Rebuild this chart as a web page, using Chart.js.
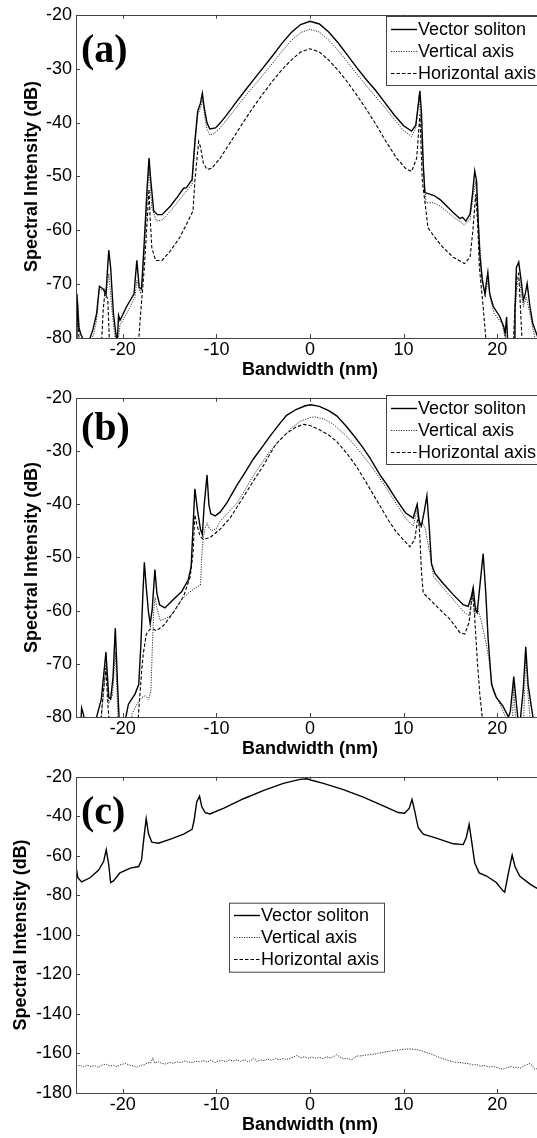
<!doctype html>
<html lang="en">
<head>
<meta charset="utf-8">
<title>Vector soliton spectra</title>
<style>
  * { margin: 0; padding: 0; }
  body { width: 537px; height: 1138px; overflow: hidden; background: #fff; position: relative; }
  .panel { position: absolute; left: 0; width: 546px; }
  .panel canvas { display: block; }
</style>
</head>
<body>
<div class="panel" style="top:0px;height:383px"><canvas id="chartA" width="546" height="383"></canvas></div>
<div class="panel" style="top:383px;height:379px"><canvas id="chartB" width="546" height="379"></canvas></div>
<div class="panel" style="top:762px;height:376px"><canvas id="chartC" width="546" height="376"></canvas></div>

<script src="https://cdn.jsdelivr.net/npm/chart.js"></script>
<script>
// series labels (same in every panel)
const seriesLabels = ['Vector soliton', 'Vertical axis', 'Horizontal axis'];
const xTickValues = [-20, -10, 0, 10, 20];

// panel (a)  [bandwidth nm, intensity dB]
const aSoliton = [[-25,-82],[-24.9,-71.8],[-24.7,-78],[-24.5,-79.2],[-24.2,-80.4],[-23.6,-80.5],[-23.2,-78.5],[-22.8,-75.5],[-22.5,-70.4],[-22.1,-70.9],[-21.8,-71.8],[-21.5,-63.7],[-21.3,-66.9],[-21.0,-75.5],[-20.7,-79.8],[-20.6,-81],[-20.45,-75.8],[-20.3,-76.7],[-19.6,-74.2],[-18.8,-71.8],[-18.5,-65.6],[-18.25,-70.6],[-18.0,-70.9],[-17.7,-61.9],[-17.4,-52.1],[-17.2,-46.6],[-17.0,-50.9],[-16.7,-56.4],[-16.3,-57.1],[-15.8,-57.1],[-14.9,-55.5],[-14.2,-53.9],[-13.5,-52.2],[-13.2,-52.1],[-12.6,-50.6],[-12.3,-43.5],[-12.0,-37.9],[-11.7,-36.4],[-11.5,-34.6],[-11.3,-37.3],[-11.0,-40.1],[-10.7,-41.2],[-10.1,-41.0],[-9.6,-40.1],[-9,-38.8],[-8,-36.5],[-7,-34.2],[-6,-32.0],[-5,-29.8],[-4,-27.6],[-3,-25.3],[-2,-23.3],[-1,-21.8],[0,-21.2],[1,-21.7],[2,-23.2],[3,-25.2],[4,-27.5],[5,-29.8],[6,-32.0],[7,-34.0],[8,-36.3],[9,-38.6],[10,-40.6],[10.85,-41.6],[11.3,-40.5],[11.55,-37.0],[11.74,-34.1],[11.92,-38.6],[12.1,-47.8],[12.27,-53.0],[12.8,-53.3],[13.3,-53.6],[13.9,-54.3],[14.6,-55.5],[15.3,-56.7],[16.0,-57.8],[16.3,-57.6],[16.65,-58.3],[17.1,-57.0],[17.36,-53.3],[17.6,-49.0],[17.8,-50.9],[17.97,-58.3],[18.14,-64.4],[18.4,-69.3],[18.7,-71.8],[18.85,-69.6],[19.0,-67.8],[19.2,-71.8],[19.6,-74.2],[20.3,-76.1],[20.7,-77.9],[20.85,-79.2],[21.0,-76.1],[21.1,-80.1],[21.2,-82],[21.8,-82],[21.9,-74.9],[22.05,-66.9],[22.3,-65.9],[22.6,-69.9],[22.8,-73.0],[23.0,-71.8],[23.2,-69.9],[23.5,-74.2],[23.8,-77.3],[24.2,-79.2],[24.6,-81]];
const aVertical = [[-25,-82],[-24.8,-73.6],[-24.6,-79],[-24.2,-80.5],[-23.4,-80.5],[-23.1,-79.2],[-22.8,-76.7],[-22.5,-70.9],[-22.05,-71.2],[-21.8,-72.5],[-21.5,-68],[-21.2,-74],[-20.9,-79],[-20.7,-81],[-20.5,-80.5],[-20.3,-77.6],[-19.6,-75.5],[-18.7,-72.4],[-18.5,-69.3],[-18.1,-71.8],[-17.9,-69.3],[-17.6,-60.7],[-17.35,-52.7],[-17.2,-48.4],[-16.9,-55.8],[-16.4,-58.3],[-15.8,-58.1],[-14.9,-56.4],[-14.2,-54.9],[-13.5,-53.3],[-12.6,-51.5],[-12.3,-44.7],[-12.0,-38.6],[-11.7,-37.3],[-11.45,-35.8],[-11.2,-39.5],[-11.0,-41.3],[-10.7,-42.3],[-10.2,-42.0],[-9.6,-41.0],[-9,-39.7],[-8,-37.5],[-7,-35.3],[-6,-33.2],[-5,-31.1],[-4,-29.0],[-3,-26.8],[-2,-24.8],[-1,-23.3],[0,-22.7],[1,-23.2],[2,-24.7],[3,-26.6],[4,-28.8],[5,-31.0],[6,-33.1],[7,-35.2],[8,-37.2],[9,-39.4],[10,-41.5],[10.85,-42.6],[11.3,-41],[11.67,-34.9],[11.9,-41.6],[12.2,-50.9],[12.4,-54.9],[13.2,-54.9],[13.9,-55.5],[15.3,-57.5],[16.5,-59.0],[17.1,-58.0],[17.4,-53.9],[17.7,-50.9],[18.0,-58.9],[18.3,-66.9],[18.7,-72.4],[19.0,-69.3],[19.3,-73.0],[19.7,-75.5],[20.5,-77.3],[20.9,-80.4],[21.1,-82],[21.8,-82],[21.9,-75.5],[22.2,-68.7],[22.4,-69.5],[22.8,-74.2],[23.1,-72.4],[23.5,-75.5],[24.0,-79.8],[24.5,-81]];
const aHorizontal = [[-25,-82],[-24.9,-74],[-24.7,-79.5],[-24.5,-82],[-22.3,-82],[-22.1,-75],[-21.9,-71.2],[-21.6,-73],[-21.4,-82],[-18.4,-82],[-18.3,-80.4],[-18.1,-75.5],[-17.7,-66.9],[-17.4,-58.3],[-17.2,-52.4],[-17.1,-57.0],[-16.9,-63.2],[-16.5,-65.6],[-15.8,-65.6],[-14.9,-63.8],[-13.9,-61.3],[-13.2,-58.9],[-12.5,-56.4],[-12.3,-50.9],[-11.9,-43.5],[-11.7,-44.5],[-11.4,-47.5],[-11.0,-48.7],[-10.5,-48.5],[-9.6,-46.6],[-9,-45],[-8,-42.3],[-7,-39.6],[-6,-37],[-5,-34.6],[-4,-32.3],[-3,-30.2],[-2,-28.4],[-1,-26.9],[0,-26.3],[1,-26.9],[2,-28.4],[3,-30.3],[4,-32.5],[5,-34.9],[6,-37.5],[7,-40.2],[7.47,-41.6],[8,-43.2],[9.25,-46.6],[10.2,-48.5],[10.85,-49.1],[11.4,-46.6],[11.74,-38.5],[12.0,-50.9],[12.27,-54.6],[12.6,-59.5],[13.2,-61.0],[14.2,-63.2],[15.3,-65.0],[16.5,-66.2],[17.1,-65.0],[17.4,-60.1],[17.7,-53.3],[17.9,-58.3],[18.1,-66.9],[18.5,-74.2],[18.8,-80.4],[18.9,-82],[21.7,-82],[21.85,-76],[22.1,-68.5],[22.3,-68],[22.5,-75],[22.7,-82],[25,-82]];

// panel (b)
const bSoliton = [[-25,-82],[-24.5,-82],[-24.4,-78.3],[-24.2,-79.5],[-24.0,-82],[-22.9,-82],[-22.8,-80],[-22.3,-76.7],[-21.8,-67.8],[-21.5,-76.3],[-21.3,-76.6],[-21.05,-72.7],[-20.8,-63.3],[-20.56,-73.9],[-20.4,-80],[-20.3,-82],[-19.9,-82],[-19.4,-77.6],[-18.7,-75.7],[-18.3,-73.9],[-18.07,-66.5],[-17.85,-56.7],[-17.7,-50.9],[-17.5,-55.5],[-17.25,-60.4],[-17.07,-62.5],[-16.86,-59.8],[-16.57,-52.3],[-16.36,-56.7],[-16.07,-58.9],[-15.5,-59.5],[-14.6,-57.9],[-13.7,-56.4],[-13.0,-54.2],[-12.7,-51.8],[-12.5,-44.4],[-12.3,-37.1],[-12.0,-41.4],[-11.7,-44.7],[-11.5,-45.7],[-11.3,-40.1],[-11.0,-34.5],[-10.8,-40.1],[-10.6,-41.8],[-10.13,-42.2],[-9.6,-41.5],[-8.9,-39.8],[-7.8,-36.4],[-7,-34.2],[-6.05,-31.5],[-5,-29],[-4.27,-27.2],[-3.3,-25],[-2.5,-23.3],[-1.5,-22.2],[-0.5,-21.5],[0.1,-21.3],[1,-21.6],[2,-22.4],[2.85,-23.4],[3.8,-25.2],[4.63,-27],[5.5,-29],[6.4,-31.3],[7.47,-34.5],[8.2,-36.3],[9.25,-39.2],[10.2,-41.6],[11.03,-42.6],[11.45,-40.0],[11.67,-43.2],[11.9,-44.1],[12.2,-41.4],[12.49,-38.4],[12.74,-44.4],[12.98,-51.2],[13.34,-53.0],[14.23,-54.9],[15.3,-57.0],[16.36,-58.9],[16.9,-59.2],[17.25,-57.3],[17.43,-55.7],[17.68,-59.8],[17.86,-60.4],[18.14,-55.5],[18.5,-49.3],[18.78,-56.7],[19.03,-65.3],[19.4,-73.9],[19.9,-76.3],[20.6,-77.9],[21.2,-80],[21.4,-79],[21.77,-72.4],[22.06,-77.6],[22.3,-82],[22.5,-80],[22.77,-75.1],[23.05,-66.8],[23.3,-73.9],[23.66,-78.2],[24.0,-82],[25,-82]];
const bVertical = [[-25,-82],[-22.4,-82],[-22.2,-78.2],[-21.8,-70.2],[-21.5,-77.5],[-21.1,-76],[-20.8,-67.8],[-20.6,-76],[-20.5,-82],[-19.2,-82],[-19.0,-79.4],[-18.5,-77.6],[-17.96,-76.3],[-17.6,-76.0],[-17.25,-76.7],[-17.0,-75.1],[-16.86,-67.8],[-16.7,-60],[-16.55,-57.5],[-16.4,-59.2],[-16.0,-61.9],[-14.9,-61.0],[-13.7,-57.9],[-13.0,-56.7],[-12.3,-55.8],[-11.7,-55.2],[-11.55,-49.3],[-11.4,-46.3],[-11.2,-44.5],[-11.0,-43.5],[-10.8,-44.5],[-10.5,-45.0],[-10.0,-44.6],[-9.6,-43.2],[-8.7,-41.5],[-7.8,-39.8],[-7,-37.5],[-6.05,-34.6],[-5,-31.9],[-4.27,-30.0],[-3.5,-28.5],[-2.8,-27.2],[-2,-25.7],[-1,-24.4],[0,-23.7],[0.5,-23.6],[1.5,-24.0],[2.5,-25.0],[3.9,-27.2],[5,-29.4],[6.4,-32.5],[7.47,-35.2],[8.2,-37.1],[9.25,-40.0],[10.2,-42.6],[11.03,-44.1],[11.45,-41.0],[11.74,-44.4],[12.0,-43.5],[12.3,-44.5],[12.8,-49.3],[13.2,-53.6],[14.23,-55.8],[15.3,-57.9],[16.36,-60.1],[17.0,-61.0],[17.36,-56.7],[17.6,-61.0],[17.86,-59.2],[18.3,-62],[18.8,-66],[19.1,-69],[19.56,-75.1],[20.3,-77.6],[20.9,-80],[21.1,-82],[21.6,-82],[21.77,-74],[22.0,-82],[22.8,-82],[23.05,-68],[23.3,-76],[23.6,-82],[25,-82]];
const bHorizontal = [[-25,-82],[-22.4,-82],[-22.1,-75.7],[-21.8,-70.8],[-21.6,-77.6],[-21.4,-82],[-18.4,-82],[-18.3,-78.8],[-17.96,-70.8],[-17.8,-68],[-17.5,-64.5],[-17.1,-63.5],[-16.7,-63.5],[-16.4,-63.8],[-15.65,-62.8],[-14.6,-60.4],[-13.5,-57.3],[-12.8,-53.6],[-12.5,-49.3],[-12.3,-42],[-12.1,-43.8],[-11.75,-46.0],[-11.4,-46.6],[-10.7,-46.3],[-9.6,-44.7],[-8.5,-42.5],[-7.1,-38.6],[-6,-35.5],[-5,-32.8],[-4.3,-30.6],[-3.55,-28.5],[-2.5,-26.7],[-1.5,-25.5],[-0.7,-25.0],[0,-25.2],[1,-26.0],[2,-27.0],[2.85,-28.2],[4,-30.6],[5,-33.0],[6,-35.9],[6.8,-38.3],[7.47,-40.3],[8.3,-42.8],[9.25,-45.3],[10.67,-48.0],[11.2,-46.6],[11.56,-42],[11.74,-46.3],[11.9,-52.4],[12.1,-56.7],[12.8,-57.9],[13.87,-59.8],[14.94,-61.6],[16.0,-64.1],[16.54,-64.4],[17.0,-62.2],[17.36,-56.7],[17.54,-59.8],[17.86,-69.0],[18.14,-75.7],[18.4,-80],[18.5,-82],[25,-82]];

// panel (c)
const cSoliton = [[-25,-65.4],[-24.8,-71.1],[-24.4,-73.2],[-23.5,-71.1],[-22.6,-67.3],[-22.05,-62.9],[-21.77,-56.9],[-21.5,-64.5],[-21.3,-73.5],[-21.0,-72.7],[-20.3,-68.6],[-19.2,-66.2],[-18.3,-65.4],[-18.0,-62.1],[-17.7,-49.0],[-17.5,-41.2],[-17.25,-49.0],[-16.9,-53.1],[-16.2,-53.6],[-14.9,-51.5],[-13.5,-49.0],[-12.6,-46.6],[-12.4,-42.5],[-12.1,-32.7],[-11.8,-29.8],[-11.56,-35.2],[-11.2,-38.1],[-10.7,-38.8],[-9.25,-36.0],[-7.1,-31.1],[-5.0,-27.0],[-2.85,-23.3],[-1.06,-21.3],[-0.35,-21.0],[0.08,-21.6],[1.43,-23.3],[3.56,-26.5],[5.7,-30.3],[7.83,-34.7],[9.43,-38.1],[10.1,-38.4],[10.6,-36.0],[10.9,-31.4],[11.2,-37.6],[11.56,-45.8],[12.1,-49.0],[13.5,-51.0],[15.3,-53.9],[16.37,-54.3],[16.7,-50.7],[17.0,-44.1],[17.26,-52.3],[17.6,-63.7],[18.07,-68.6],[18.86,-70.2],[19.9,-73.5],[20.6,-77.6],[20.8,-78.4],[21.2,-68.6],[21.6,-59.6],[21.9,-65.4],[22.4,-70.2],[23.5,-74.3],[24.2,-76.3],[25,-77]];
const cVertical = [[-25,-166.5],[-24.6,-166.0],[-24.2,-166.8],[-23.8,-165.9],[-23.4,-166.6],[-23.0,-166.2],[-22.6,-167.0],[-22.2,-165.8],[-21.8,-165.4],[-21.4,-166.3],[-21.0,-166.0],[-20.6,-166.7],[-20.2,-165.6],[-19.7,-165.1],[-19.3,-165.9],[-18.9,-166.2],[-18.5,-167.0],[-18.1,-166.0],[-17.7,-165.7],[-17.3,-164.6],[-17.0,-164.8],[-16.8,-162.2],[-16.6,-164.9],[-16.2,-164.2],[-15.8,-165.1],[-15.4,-165.3],[-15.0,-164.6],[-14.6,-164.9],[-14.2,-164.2],[-13.8,-164.6],[-13.4,-163.8],[-13.0,-164.3],[-12.6,-164.6],[-12.2,-163.9],[-11.8,-164.2],[-11.4,-163.6],[-11.0,-164.4],[-10.6,-163.4],[-10.2,-164.6],[-9.8,-163.9],[-9.4,-163.5],[-9.0,-164.2],[-8.6,-163.3],[-8.2,-163.8],[-7.8,-163.2],[-7.4,-164.0],[-7.0,-163.1],[-6.6,-164.3],[-6.2,-163.2],[-6.0,-162.2],[-5.7,-164.0],[-5.3,-163.3],[-4.9,-163.6],[-4.5,-162.8],[-4.1,-163.4],[-3.7,-162.6],[-3.3,-163.2],[-2.9,-162.6],[-2.5,-163.0],[-2.1,-162.4],[-1.7,-161.6],[-1.4,-161.0],[-1.0,-162.1],[-0.6,-161.7],[-0.2,-162.4],[0.2,-161.8],[0.6,-162.4],[1.0,-162.0],[1.4,-162.6],[1.8,-161.7],[2.2,-162.3],[2.6,-161.4],[2.85,-160.6],[3.2,-161.8],[3.6,-162.7],[4.0,-162.5],[4.45,-163.4],[4.7,-162.0],[5.0,-161.3],[5.5,-161.2],[6.0,-160.8],[6.4,-160.6],[6.9,-160.3],[7.4,-159.8],[7.83,-159.4],[8.4,-158.9],[9.0,-158.5],[9.5,-158.2],[10.0,-157.9],[10.5,-157.7],[11.0,-157.8],[11.4,-158.0],[12.0,-158.8],[12.8,-160.0],[13.5,-161.4],[14.2,-162.7],[14.8,-163.6],[15.4,-164.4],[16.0,-164.5],[16.4,-164.9],[17.0,-165.2],[17.4,-165.8],[17.8,-165.6],[18.2,-166.4],[18.6,-166.1],[19.2,-166.9],[19.6,-166.5],[20.0,-167.2],[20.6,-168.0],[21.0,-167.3],[21.4,-166.6],[21.8,-167.1],[22.1,-166.8],[22.5,-167.4],[22.9,-166.2],[23.2,-165.6],[23.5,-165.1],[23.8,-166.4],[24.0,-167.9],[24.5,-167.5]];
const cHorizontal = [];

Chart.defaults.font.family = '"Liberation Sans", Arial, sans-serif';
Chart.defaults.color = '#000';

const lineStyles = [
    {borderColor: '#000', borderWidth: 1.4, borderDash: []},
    {borderColor: '#333', borderWidth: 1, borderDash: [1.2, 1.3]},
    {borderColor: '#000', borderWidth: 1.1, borderDash: [3.5, 2]}
];

// box, inward ticks, panel tag and legend, MATLAB style
const frame = {
    id: 'frame',
    afterDraw(chart, args, opts) {
        const {ctx, chartArea: {left, top, right, bottom}, scales: {x, y}} = chart;
        ctx.save();
        ctx.strokeStyle = '#444';
        ctx.lineWidth = 1;
        ctx.strokeRect(Math.round(left) + 0.5, Math.round(top) + 0.5, Math.round(right - left), Math.round(bottom - top));
        ctx.beginPath();
        x.ticks.forEach(t => {
            const px = Math.round(x.getPixelForValue(t.value)) + 0.5;
            ctx.moveTo(px, top); ctx.lineTo(px, top + 4);
            ctx.moveTo(px, bottom); ctx.lineTo(px, bottom - 4);
        });
        y.ticks.forEach(t => {
            const py = Math.round(y.getPixelForValue(t.value)) + 0.5;
            ctx.moveTo(left, py); ctx.lineTo(left + 4, py);
            ctx.moveTo(right, py); ctx.lineTo(right - 4, py);
        });
        ctx.stroke();

        ctx.fillStyle = '#000';
        ctx.font = 'bold 40px "Liberation Serif", "Times New Roman", serif';
        ctx.textBaseline = 'alphabetic';
        ctx.textAlign = 'left';
        ctx.fillText(opts.tag, left + 5, top + opts.tagDy);

        const lg = opts.legend;
        ctx.fillStyle = '#fff';
        ctx.fillRect(lg.x, lg.y, lg.w, 69);
        ctx.strokeStyle = '#444';
        ctx.strokeRect(lg.x + 0.5, lg.y + 0.5, lg.w, 69);
        ctx.font = '18px "Liberation Sans", Arial, sans-serif';
        ctx.textBaseline = 'middle';
        chart.data.datasets.forEach((ds, i) => {
            const ry = Math.round(lg.y + 12.5 + 22 * i) + 0.5;
            ctx.beginPath();
            ctx.strokeStyle = ds.borderColor;
            ctx.lineWidth = ds.borderWidth;
            ctx.setLineDash(ds.borderDash);
            ctx.moveTo(lg.x + 5, ry);
            ctx.lineTo(lg.x + 31, ry);
            ctx.stroke();
            ctx.setLineDash([]);
            ctx.fillStyle = '#000';
            ctx.fillText(ds.label, lg.x + 32, ry + 1);
        });
        ctx.restore();
    }
};

function toPoints(pairs) {
    return pairs.map(p => ({x: p[0], y: p[1]}));
}

function makeChart(id, series, cfg) {
    const datasets = series.map((s, i) => Object.assign({
        label: seriesLabels[i],
        data: toPoints(s),
        pointRadius: 0,
        tension: 0,
        fill: false
    }, lineStyles[i]));

    return new Chart(document.getElementById(id), {
        type: 'line',
        data: {datasets},
        options: {
            responsive: false,
            animation: false,
            devicePixelRatio: 1,
            layout: {padding: {top: cfg.padTop, right: 2, left: 0, bottom: 0}},
            plugins: {
                legend: {display: false},
                tooltip: {enabled: false},
                frame: {tag: cfg.tag, tagDy: cfg.tagDy, legend: cfg.legend}
            },
            scales: {
                x: {
                    type: 'linear',
                    min: -25,
                    max: 25,
                    afterBuildTicks: s => { s.ticks = xTickValues.map(v => ({value: v})); },
                    afterFit: s => { s.height = 45; },
                    grid: {display: false, drawTicks: false},
                    border: {display: false},
                    ticks: {font: {size: 18}, padding: 1, color: '#000', maxRotation: 0},
                    title: {
                        display: true,
                        text: 'Bandwidth (nm)',
                        font: {size: 18, weight: 'bold'},
                        padding: {top: 0, bottom: 2}
                    }
                },
                y: {
                    type: 'linear',
                    min: cfg.yMin,
                    max: cfg.yMax,
                    afterFit: s => { s.width = 76; },
                    grid: {display: false, drawTicks: false},
                    border: {display: false},
                    ticks: {stepSize: cfg.yStep, font: {size: 18}, padding: 4, color: '#000'},
                    title: {
                        display: true,
                        text: 'Spectral Intensity (dB)',
                        font: {size: 18, weight: 'bold'},
                        padding: {top: cfg.yTitlePad, bottom: 0}
                    }
                }
            }
        },
        plugins: [frame]
    });
}

makeChart('chartA', [aSoliton, aVertical, aHorizontal], {
    padTop: 12.7, yMin: -80, yMax: -20, yStep: 10, yTitlePad: 21,
    tag: '(a)', tagDy: 47, legend: {x: 386, y: 16, w: 155}
});
makeChart('chartB', [bSoliton, bVertical, bHorizontal], {
    padTop: 7.7, yMin: -80, yMax: -20, yStep: 10, yTitlePad: 21,
    tag: '(b)', tagDy: 42, legend: {x: 386, y: 12, w: 155}
});
makeChart('chartC', [cSoliton, cVertical, cHorizontal], {
    padTop: 5.3, yMin: -180, yMax: -20, yStep: 20, yTitlePad: 10,
    tag: '(c)', tagDy: 47, legend: {x: 229, y: 140.7, w: 155}
});
</script>
</body>
</html>
